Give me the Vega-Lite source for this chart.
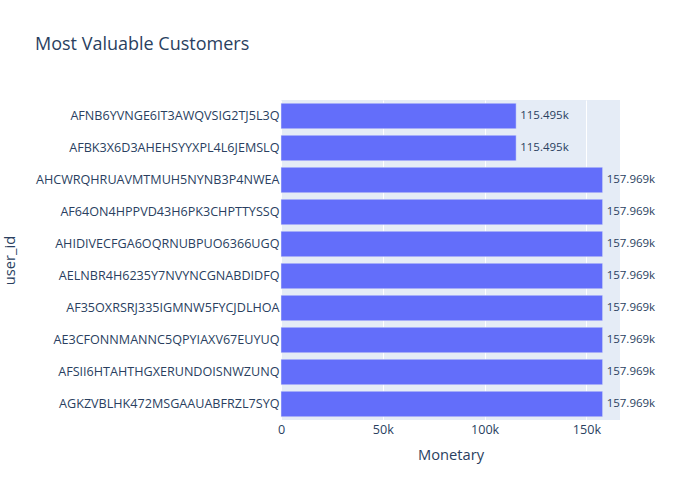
{
  "$schema": "https://vega.github.io/schema/vega-lite/v6.json",
  "autosize": "none",
  "padding": {"left": 281, "top": 100, "right": 80, "bottom": 80},
  "width": 339,
  "height": 320,
  "background": "white",
  "config": {
    "font": "Open Sans",
    "view": {"fill": "#e5ecf6", "stroke": null}
  },
  "title": {
    "text": "Most Valuable Customers",
    "anchor": "start",
    "frame": "group",
    "dx": -246,
    "offset": 32,
    "baseline": "alphabetic",
    "fontSize": 18,
    "fontWeight": "normal",
    "color": "#2a3f5f",
    "font": "Open Sans"
  },
  "data": {
    "values": [
      {"user_id": "AFNB6YVNGE6IT3AWQVSIG2TJ5L3Q", "Monetary": 115495},
      {"user_id": "AFBK3X6D3AHEHSYYXPL4L6JEMSLQ", "Monetary": 115495},
      {"user_id": "AHCWRQHRUAVMTMUH5NYNB3P4NWEA", "Monetary": 157969},
      {"user_id": "AF64ON4HPPVD43H6PK3CHPTTYSSQ", "Monetary": 157969},
      {"user_id": "AHIDIVECFGA6OQRNUBPUO6366UGQ", "Monetary": 157969},
      {"user_id": "AELNBR4H6235Y7NVYNCGNABDIDFQ", "Monetary": 157969},
      {"user_id": "AF35OXRSRJ335IGMNW5FYCJDLHOA", "Monetary": 157969},
      {"user_id": "AE3CFONNMANNC5QPYIAXV67EUYUQ", "Monetary": 157969},
      {"user_id": "AFSII6HTAHTHGXERUNDOISNWZUNQ", "Monetary": 157969},
      {"user_id": "AGKZVBLHK472MSGAAUABFRZL7SYQ", "Monetary": 157969}
    ]
  },
  "encoding": {
    "y": {
      "field": "user_id",
      "type": "nominal",
      "sort": null,
      "scale": {"paddingInner": 0.2, "paddingOuter": 0.1},
      "axis": {
        "title": "user_id",
        "titleFontSize": 14.7,
        "titleFontWeight": "normal",
        "titleColor": "#2a3f5f",
        "titleX": -271,
        "titleY": 160,
        "titleAngle": -90,
        "titleAlign": "center",
        "titleBaseline": "middle",
        "labelFontSize": 12.6,
        "labelColor": "#2a3f5f",
        "labelPadding": 2,
        "labelLimit": 400,
        "ticks": false,
        "domain": false,
        "grid": false
      }
    },
    "x": {
      "field": "Monetary",
      "type": "quantitative",
      "scale": {"domain": [0, 166500], "nice": false, "zero": true},
      "axis": {
        "title": "Monetary",
        "titleFontSize": 14.7,
        "titleFontWeight": "normal",
        "titleColor": "#2a3f5f",
        "titleY": 35,
        "titleBaseline": "middle",
        "values": [0, 50000, 100000, 150000],
        "labelExpr": "datum.value == 0 ? '0' : format(datum.value, '~s')",
        "labelFlush": false,
        "labelFontSize": 12.6,
        "labelColor": "#2a3f5f",
        "labelPadding": 3,
        "ticks": false,
        "domain": false,
        "grid": true,
        "gridColor": "white",
        "gridWidth": 1
      }
    }
  },
  "layer": [
    {
      "mark": {"type": "bar", "color": "#636efa", "stroke": "#e5ecf6", "strokeWidth": 0.5}
    },
    {
      "mark": {"type": "text", "align": "left", "baseline": "middle", "dx": 4, "fontSize": 11.5, "color": "#2a3f5f"},
      "encoding": {
        "text": {"field": "Monetary", "type": "quantitative", "format": ".6~s"}
      }
    }
  ]
}
